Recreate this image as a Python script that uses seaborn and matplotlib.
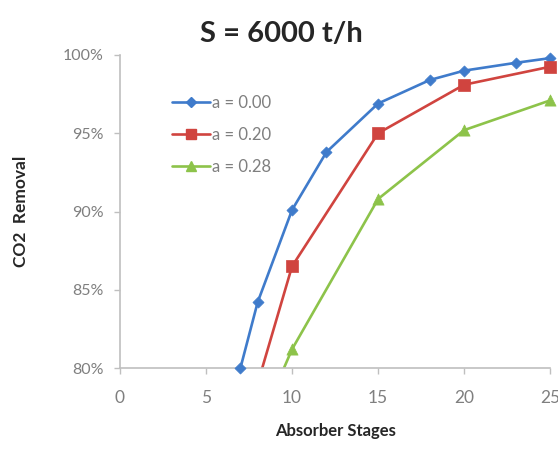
import matplotlib
matplotlib.use("Agg")
import matplotlib.pyplot as plt
from matplotlib.lines import Line2D
from matplotlib.patches import Rectangle
from matplotlib.ticker import FuncFormatter
import numpy as np
import pandas as pd
import seaborn as sns

# absorber stages vs CO2 removal (fraction), one series per a-value
stages_a000 = [7, 8, 10, 12, 15, 18, 20, 23, 25]
removal_a000 = [0.800, 0.842, 0.901, 0.938, 0.969, 0.984, 0.990, 0.995, 0.998]

stages_a020 = [8, 10, 15, 20, 25]
removal_a020 = [0.790, 0.865, 0.950, 0.981, 0.9925]

stages_a028 = [8, 10, 15, 20, 25]
removal_a028 = [0.761, 0.812, 0.908, 0.952, 0.971]

labels = ["a = 0.00", "a = 0.20", "a = 0.28"]
colors = ["#3F7BCB", "#D0443F", "#8DC34A"]
markers = ["D", "s", "^"]
marker_sizes = [32, 85, 65]

x_ticks = [0, 5, 10, 15, 20, 25]
y_ticks = [0.80, 0.85, 0.90, 0.95, 1.00]

sns.set_style("white")
plt.rcParams["font.family"] = ["Lato", "DejaVu Sans"]

series = [(stages_a000, removal_a000), (stages_a020, removal_a020), (stages_a028, removal_a028)]

fig = plt.figure(figsize=(5.58, 4.53), dpi=100)
ax = fig.add_axes([0.215, 0.1876, 0.771, 0.691])

handles = []
for (xs, ys), lab, col, mk, ms in zip(series, labels, colors, markers, marker_sizes):
    df = pd.DataFrame({"stages": xs, "removal": ys})
    sns.lineplot(data=df, x="stages", y="removal", color=col, linewidth=1.9, ax=ax)
    sns.scatterplot(data=df, x="stages", y="removal", color=col, marker=mk,
                    s=ms, edgecolor=col, linewidth=0.5, ax=ax, zorder=3)
    handles.append(Line2D([], [], color=col, linewidth=1.9, marker=mk,
                          markersize=np.sqrt(ms) * 0.85, label=lab))

# markers sitting on the axis edge are shown whole, as in the source chart
clip = Rectangle((0, -0.02), 1.02, 1.04, transform=ax.transAxes)
for coll in ax.collections:
    coll.set_clip_path(clip)

ax.set_xlim(0, 25)
ax.set_ylim(0.80, 1.00)
ax.set_xticks(x_ticks)
ax.set_yticks(y_ticks)
ax.yaxis.set_major_formatter(FuncFormatter(lambda v, p: f"{v * 100:.0f}%"))

for side in ["top", "right"]:
    ax.spines[side].set_visible(False)
for side in ["left", "bottom"]:
    ax.spines[side].set_color("#BFBFBF")
    ax.spines[side].set_linewidth(1.2)

ax.tick_params(axis="x", direction="out", length=4, width=1, color="#BFBFBF",
               pad=12, labelsize=12.5, labelcolor="#7F7F7F")
ax.tick_params(axis="y", direction="out", length=4, width=1, color="#BFBFBF",
               pad=8, labelsize=11.5, labelcolor="#7F7F7F")
ax.tick_params(bottom=True, left=True)

ax.set_xlabel("Absorber Stages", fontsize=12, fontweight="bold", labelpad=12)
ax.set_ylabel("CO2  Removal", fontsize=12.5, fontweight="bold", labelpad=24)
ax.set_title("S = 6000 t/h", fontsize=21, fontweight="bold", x=0.375, pad=9)

ax.legend(handles=handles, loc="upper left", bbox_to_anchor=(0.121, 0.872),
          frameon=False, fontsize=12, labelcolor="#7F7F7F", borderpad=0,
          borderaxespad=0, handlelength=2.3, handletextpad=0.1,
          labelspacing=0.95)

fig.savefig("out.png", dpi=100)
plt.close(fig)
